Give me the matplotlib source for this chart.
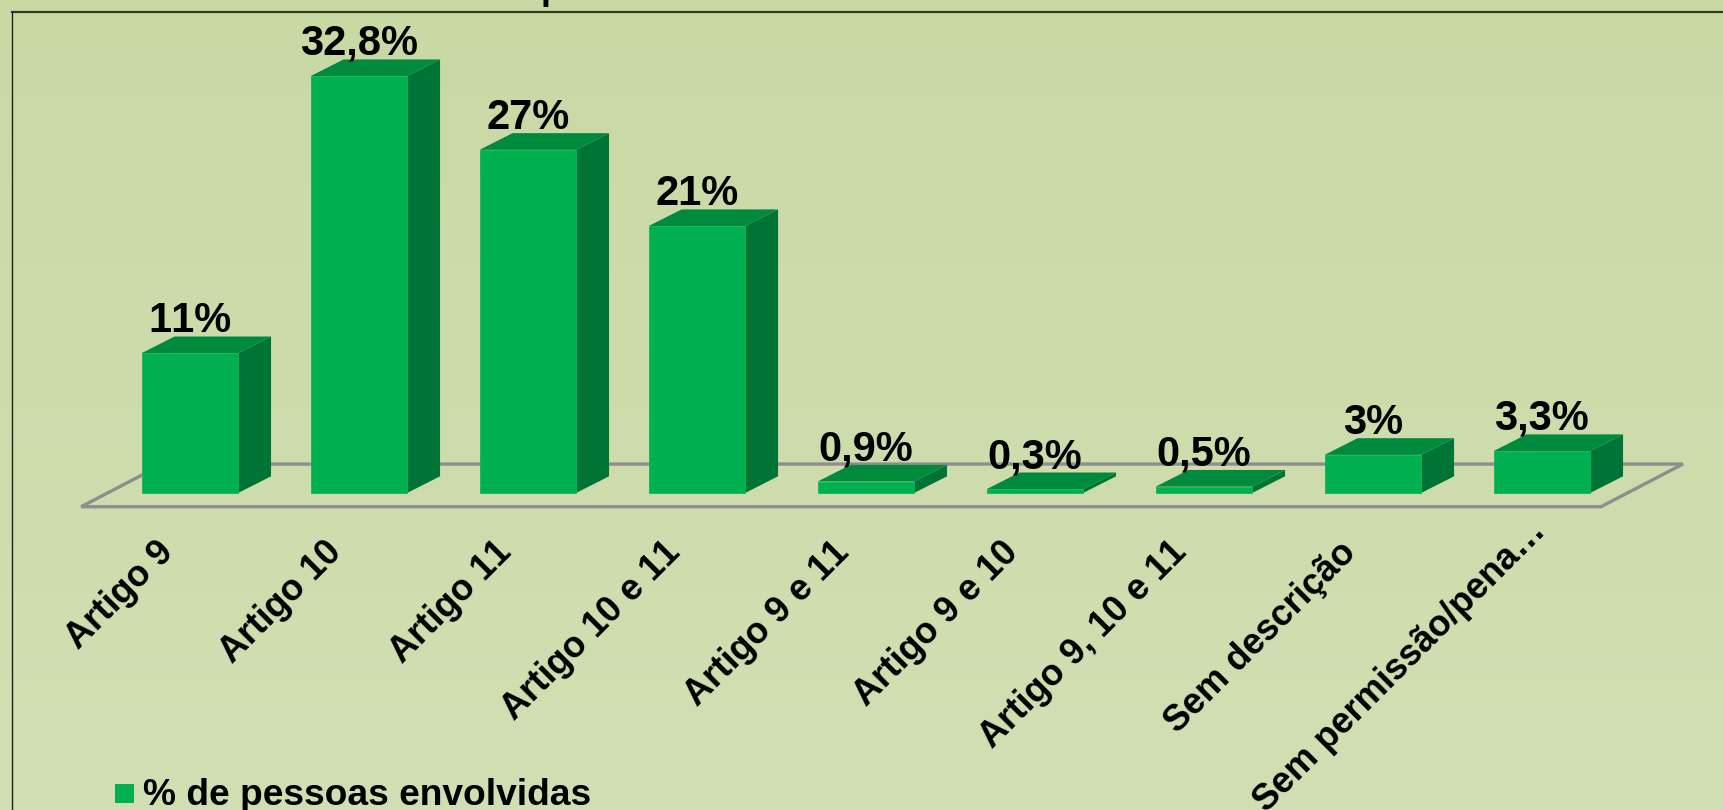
import numpy as np
import matplotlib
matplotlib.use("Agg")
import matplotlib.pyplot as plt
from matplotlib.patches import Polygon, Rectangle
from matplotlib.lines import Line2D

categories = ["Artigo 9", "Artigo 10", "Artigo 11", "Artigo 10 e 11", "Artigo 9 e 11",
              "Artigo 9 e 10", "Artigo 9, 10 e 11", "Sem descrição", "Sem permissão/pena…"]
values = [11, 32.8, 27, 21, 0.9, 0.3, 0.5, 3, 3.3]
value_labels = ["11%", "32,8%", "27%", "21%", "0,9%", "0,3%", "0,5%", "3%", "3,3%"]
series_name = "% de pessoas envolvidas"

plt.rcParams['font.family'] = ['Liberation Sans', 'DejaVu Sans']
plt.rcParams['font.weight'] = 'bold'
plt.rcParams['text.kerning_factor'] = 6

W, H = 1724, 810
fig = plt.figure(figsize=(W / 100, H / 100), dpi=100)
ax = fig.add_axes([0, 0, 1, 1])

# scale: bars 169 px apart, 12.71 px per percent, base of the bars at pixel y 493
xlim = (-1.123, 9.078)
ylim = (-24.94, 38.79)
px = (xlim[1] - xlim[0]) / W
py = (ylim[1] - ylim[0]) / H

# background gradient
grad = np.linspace(0, 1, 256).reshape(-1, 1, 1)
top = np.array([201, 217, 164]) / 255
bottom = np.array([210, 223, 179]) / 255
ax.imshow(top + (bottom - top) * grad, extent=[xlim[0], xlim[1], ylim[0], ylim[1]],
          aspect='auto', origin='upper', zorder=0)

front = '#00B050'
side = '#007434'
roof = '#008A3E'
width = 96.5 * px
dx = 33 * px
dy = 16.7 * py

# floor of the 3d chart
fx0, fx1 = -0.643, 8.35
fy = -1.08
fdx = 82 * px
fdy = 3.36
ax.add_patch(Polygon([(fx0, fy), (fx1, fy), (fx1 + fdx, fy + fdy), (fx0 + fdx, fy + fdy)],
                     closed=True, fill=False, ec='#8E8E8E', lw=2.4, zorder=1))

for i, v in enumerate(values):
    l = i - width / 2
    r = i + width / 2
    ax.add_patch(Polygon([(r, 0), (r + dx, dy), (r + dx, v + dy), (r, v)], fc=side, ec='none', zorder=2))
    ax.add_patch(Polygon([(l, v), (r, v), (r + dx, v + dy), (l + dx, v + dy)], fc=roof, ec='none', zorder=2))
    ax.add_patch(Rectangle((l, 0), width, v, fc=front, ec='#0FB857', lw=0.6, zorder=3))
    ax.text(i, v + dy + 0.35, value_labels[i], ha='center', va='baseline', fontsize=30, zorder=4)
    # the shortened last label sits further out
    extra = 21 * px if i == len(values) - 1 else 0
    ax.text(i - 0.13 + extra, -4.25 + extra / px * py, categories[i], rotation=45, ha='right', va='center',
            rotation_mode='anchor', fontsize=26, zorder=4)

# legend
ax.add_patch(Rectangle((-0.443, -24.4), 19 * px, 19 * py, fc=front, ec='none', zorder=3))
ax.text(-0.2765, -24.55, series_name, ha='left', va='baseline', fontsize=26.7, zorder=4)

ax.set_xlim(xlim)
ax.set_ylim(ylim)
ax.axis('off')

# frame lines of the picture
fig.add_artist(Line2D([12 / W, 1], [1 - 12 / H, 1 - 12 / H], color='#2F3A22', lw=1.6))
fig.add_artist(Line2D([12 / W, 12 / W], [0, 1 - 12 / H], color='#1E2418', lw=1.0))

# title is cut off by the top edge, only the tail of one letter shows
fig.text(541 / W, 1 + 1 / H, "p", fontsize=26, ha='left', va='baseline')

fig.savefig("out.png", dpi=100)
